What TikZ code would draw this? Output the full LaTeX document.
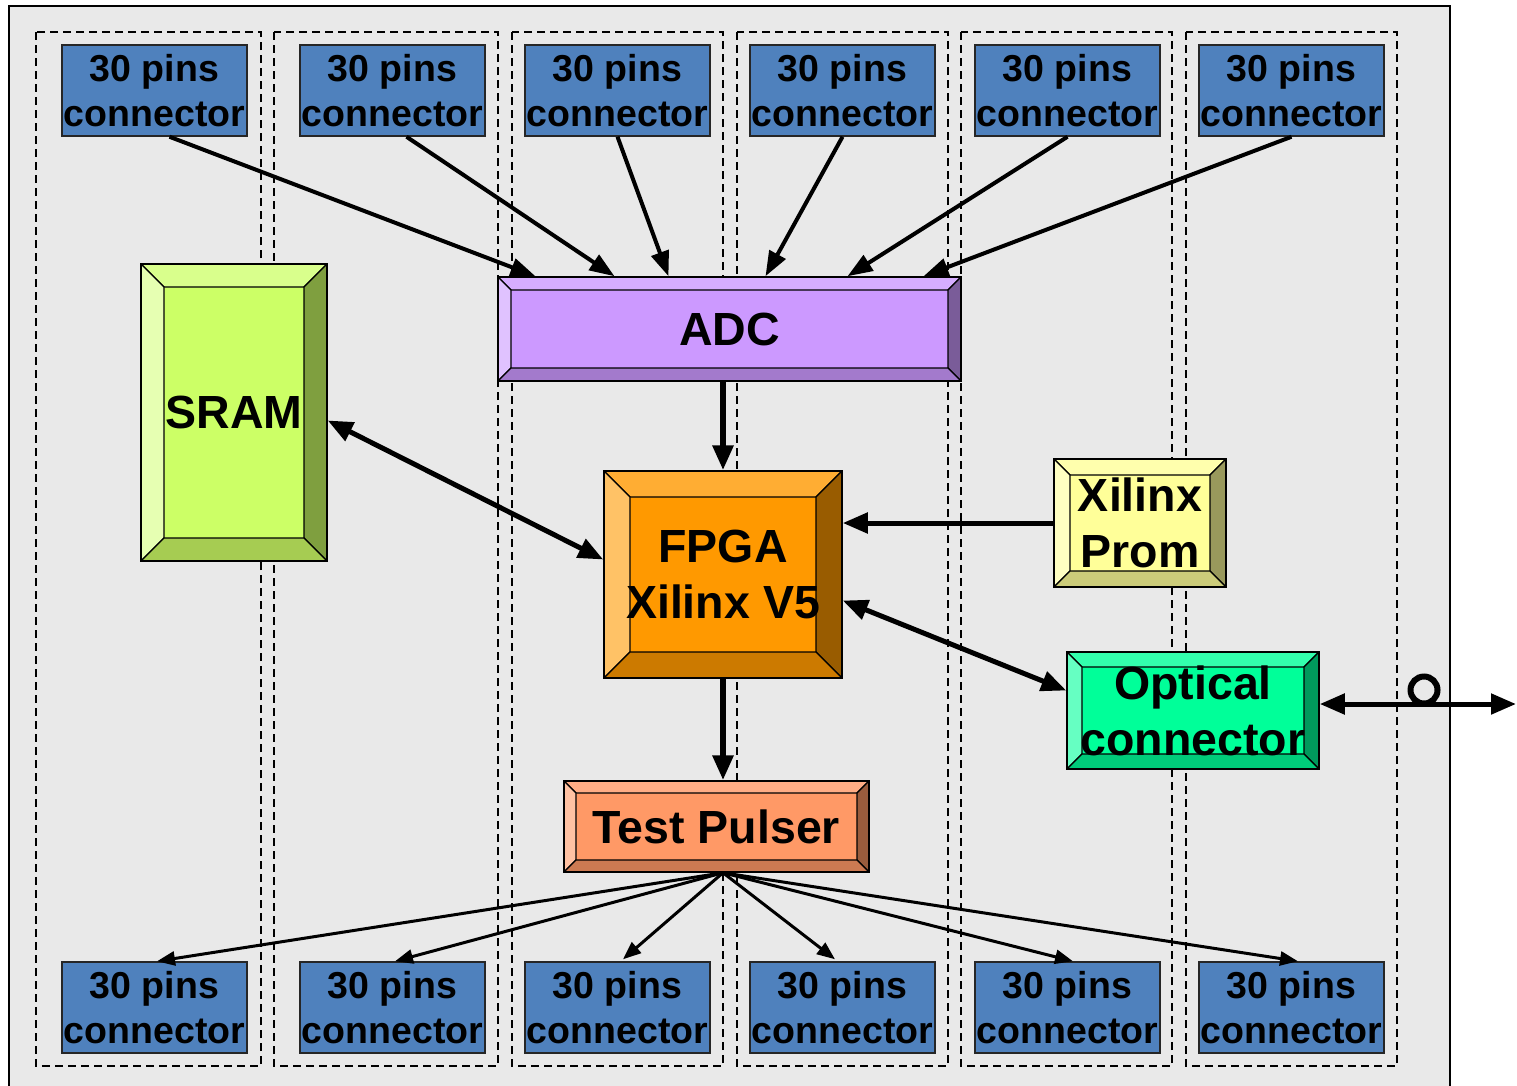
\documentclass[tikz,border=0pt]{standalone}
\usepackage{fontspec}
\setmainfont{Liberation Sans}
\usetikzlibrary{arrows.meta}
\definecolor{framegray}{HTML}{E9E9E9}
\definecolor{connblue}{HTML}{4F81BD}
\definecolor{sramC}{HTML}{CCFF66}\definecolor{sramT}{HTML}{D9FF8C}\definecolor{sramL}{HTML}{E6FFB2}\definecolor{sramR}{HTML}{7F9F3F}\definecolor{sramB}{HTML}{A6CC52}
\definecolor{adcC}{HTML}{CC99FF}\definecolor{adcT}{HTML}{D6ADFF}\definecolor{adcL}{HTML}{E0C2FF}\definecolor{adcR}{HTML}{7A5C99}\definecolor{adcB}{HTML}{A37ACC}
\definecolor{fpgaC}{HTML}{FF9900}\definecolor{fpgaT}{HTML}{FFAD33}\definecolor{fpgaL}{HTML}{FFC266}\definecolor{fpgaR}{HTML}{995C00}\definecolor{fpgaB}{HTML}{CC7A00}
\definecolor{promC}{HTML}{FFFF99}\definecolor{promT}{HTML}{FFFFAD}\definecolor{promL}{HTML}{FFFFC2}\definecolor{promR}{HTML}{99995C}\definecolor{promB}{HTML}{CCCC7A}
\definecolor{optC}{HTML}{00FF99}\definecolor{optT}{HTML}{33FFAD}\definecolor{optL}{HTML}{66FFC2}\definecolor{optR}{HTML}{00995C}\definecolor{optB}{HTML}{00CC7A}
\definecolor{tpC}{HTML}{FF9966}\definecolor{tpT}{HTML}{FFAD85}\definecolor{tpL}{HTML}{FFC2A3}\definecolor{tpR}{HTML}{995C3D}\definecolor{tpB}{HTML}{CC7A52}
\newcommand\connfont{\fontsize{37.5}{45}\selectfont\bfseries}
\newcommand\bigfont{\fontsize{46.5}{56}\selectfont\bfseries}
\tikzset{
  conn/.style={draw=black!85, line width=1.5pt, fill=connblue, minimum width=185pt,
    minimum height=91pt, inner sep=0pt, align=center, font=\connfont},
  bigbox/.style={draw=black, line width=1.5pt, inner sep=0pt, align=center, font=\bigfont},
  bev/.style n args={5}{path picture={
    \path (path picture bounding box.north west) coordinate (q1)
          (path picture bounding box.north east) coordinate (q2)
          (path picture bounding box.south east) coordinate (q3)
          (path picture bounding box.south west) coordinate (q4);
    \filldraw[fill=#2, draw=black, line width=1.2pt] (q1) -- (q2) -- ([shift={(-#1,#1)}]q2) -- ([shift={(#1,#1)}]q1) -- cycle;
    \filldraw[fill=#3, draw=black, line width=1.2pt] (q1) -- ([shift={(#1,#1)}]q1) -- ([shift={(#1,-#1)}]q4) -- (q4) -- cycle;
    \filldraw[fill=#4, draw=black, line width=1.2pt] (q2) -- (q3) -- ([shift={(-#1,-#1)}]q3) -- ([shift={(-#1,#1)}]q2) -- cycle;
    \filldraw[fill=#5, draw=black, line width=1.2pt] (q4) -- (q3) -- ([shift={(-#1,-#1)}]q3) -- ([shift={(#1,-#1)}]q4) -- cycle;
  }},
  dashcol/.style={draw=black, line width=1.4pt, dash pattern=on 8pt off 5pt},
  arr/.style={line width=4pt, -{Triangle[length=25pt,width=18pt]}},
  arrthick/.style={line width=6pt, -{Triangle[length=25pt,width=20pt]}},
  dbl/.style={line width=5pt, {Triangle[length=25pt,width=20pt]}-{Triangle[length=25pt,width=20pt]}},
  arrthin/.style={line width=3pt, -{Triangle[length=18pt,width=14pt]}},
}
\begin{document}
\begin{tikzpicture}[x=1pt,y=-1pt]
\useasboundingbox (0,0) rectangle (1517,1085);
\clip (0,0) rectangle (1517,1085);
\fill[white] (0,0) rectangle (1517,1085);
\draw[line width=1.5pt, fill=framegray] (9,6) rectangle (1450,1100);
% dashed columns
\foreach \a/\b in {36/261, 274/498, 512/723, 737/948, 961/1172, 1186/1397}
  \draw[dashcol] (\a,32) rectangle (\b,1066);
% connectors
\foreach \i/\cx in {1/154.5, 2/392.5, 3/617.5, 4/842.5, 5/1067.5, 6/1291.5} {
  \node[conn] (t\i) at (\cx,90.5) {30 pins\\connector};
  \node[conn] (b\i) at (\cx,1007.5) {30 pins\\connector};
}
% main blocks
\node[bigbox, fill=sramC, minimum width=186pt, minimum height=297pt, bev={23}{sramT}{sramL}{sramR}{sramB}] (sram) at (234,412.5) {SRAM};
\node[bigbox, fill=adcC, minimum width=463pt, minimum height=104pt, bev={13}{adcT}{adcL}{adcR}{adcB}] (adc) at (729.5,329) {ADC};
\node[bigbox, fill=fpgaC, minimum width=238pt, minimum height=207pt, bev={26}{fpgaT}{fpgaL}{fpgaR}{fpgaB}] (fpga) at (723,574.5) {FPGA\\Xilinx V5};
\node[bigbox, fill=promC, minimum width=172pt, minimum height=128pt, bev={16}{promT}{promL}{promR}{promB}] (prom) at (1140,523) {Xilinx\\Prom};
\node[bigbox, fill=optC, minimum width=252pt, minimum height=117pt, bev={15}{optT}{optL}{optR}{optB}] (opt) at (1193,710.5) {Optical\\connector};
\node[bigbox, fill=tpC, minimum width=305pt, minimum height=91pt, bev={12}{tpT}{tpL}{tpR}{tpB}] (tp) at (716.5,826.5) {Test Pulser};
% top arrows
\draw[arr] ([shift={(15,0)}]t1.south) -- ([shift={(-194,0)}]adc.north);
\draw[arr] ([shift={(14,0)}]t2.south) -- ([shift={(-115,0)}]adc.north);
\draw[arr] (t3.south) -- ([shift={(-61,0)}]adc.north);
\draw[arr] (t4.south) -- ([shift={(36,0)}]adc.north);
\draw[arr] (t5.south) -- ([shift={(118,0)}]adc.north);
\draw[arr] (t6.south) -- ([shift={(194,0)}]adc.north);
% centre arrows
\draw[arrthick] (adc.south -| fpga.north) -- (fpga.north);
\draw[arrthick] (fpga.south) -- (fpga.south |- tp.north);
\draw[dbl] ([shift={(0,8)}]sram.east) -- ([shift={(0,-15)}]fpga.west);
\draw[line width=5pt, -{Triangle[length=25pt,width=20pt]}] (prom.west) -- (prom.west -| fpga.east);
\draw[dbl] ([shift={(0,26)}]fpga.east) -- ([shift={(0,-20)}]opt.west);
\coordinate (ext) at (1516,704);
\draw[dbl] ([shift={(0,-6.5)}]opt.east) -- (ext);
\node[circle, draw=black, line width=6pt, minimum size=27pt, inner sep=0pt] (fibre) at (1424,690) {};
% bottom arrows
\coordinate (tpo) at (fpga.south |- tp.south);
\draw[arrthin] (tpo) -- ([shift={(2.5,0)}]b1.north);
\draw[arrthin] (tpo) -- ([shift={(2.5,0)}]b2.north);
\draw[arrthin] (tpo) -- ([shift={(5.5,-2)}]b3.north);
\draw[arrthin] (tpo) -- ([shift={(-7.5,-2)}]b4.north);
\draw[arrthin] (tpo) -- ([shift={(5.5,0)}]b5.north);
\draw[arrthin] (tpo) -- ([shift={(6.5,0)}]b6.north);
\end{tikzpicture}
\end{document}
